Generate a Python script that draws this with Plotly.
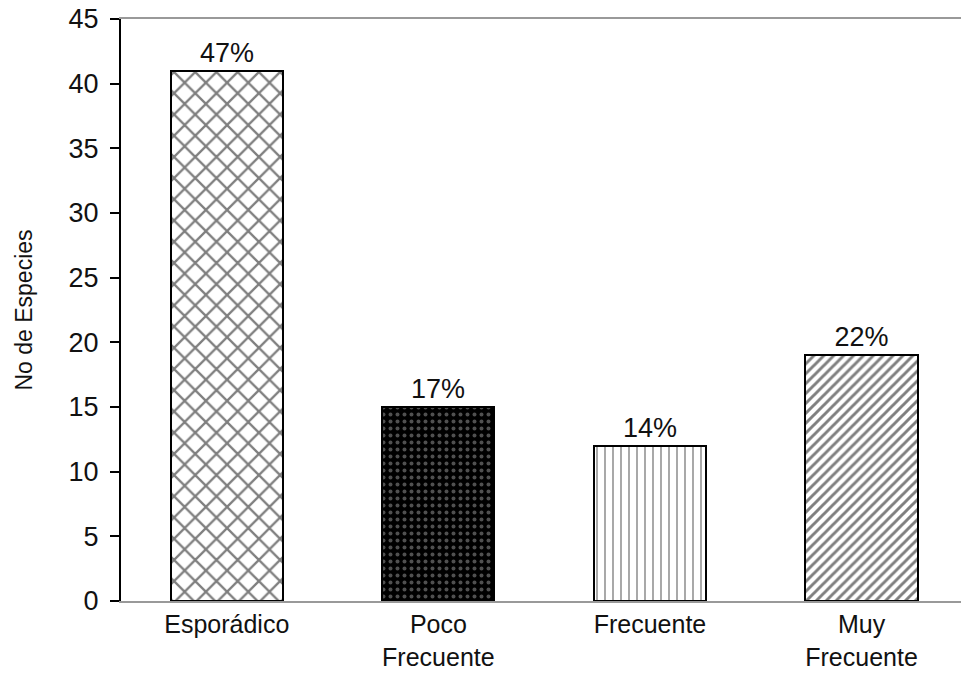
import plotly.graph_objects as go

# Species counts per frequency class
categories = ["Esporádico", "Poco<br>Frecuente", "Frecuente", "Muy<br>Frecuente"]
species = [41, 15, 12, 19]
y_ticks = [0, 5, 10, 15, 20, 25, 30, 35, 40, 45]

total = sum(species)
pct_labels = [f"{round(100 * v / total)}%" for v in species]

# Fill hatching per class
patterns = [
    dict(shape="x", fgcolor="black", bgcolor="white", size=15, solidity=0.28),
    dict(shape=".", fgcolor="#a0a0a0", bgcolor="black", size=7, solidity=0.25),
    dict(shape="|", fgcolor="#3a3a3a", bgcolor="white", size=8, solidity=0.22),
    dict(shape="/", fgcolor="black", bgcolor="white", size=7, solidity=0.42),
]

FONT = "Liberation Sans, Arial, sans-serif"

fig = go.Figure()
for i, (cat, val, txt, pat) in enumerate(zip(categories, species, pct_labels, patterns)):
    fig.add_trace(go.Bar(
        x=[i], y=[val], width=0.53,
        marker=dict(color="white", line=dict(color="black", width=2), pattern=pat),
        text=[txt], textposition="outside", cliponaxis=False,
        textfont=dict(family=FONT, size=27, color="#111111"),
        showlegend=False, hoverinfo="skip",
    ))

fig.update_layout(
    width=961, height=673,
    margin=dict(l=121, r=0, t=19, b=72),
    paper_bgcolor="white", plot_bgcolor="white",
    font=dict(family=FONT, size=27, color="#111111"),
    bargap=0,
    xaxis=dict(
        range=[-0.5, 3.47], tickmode="array", tickvals=list(range(len(categories))),
        ticktext=categories, showgrid=False, zeroline=False,
        showline=True, linecolor="#999999", linewidth=2, mirror=True,
        ticks="", tickfont=dict(size=25), ticklabelstandoff=0,
        fixedrange=True, automargin=False,
    ),
    yaxis=dict(
        range=[0, 45], tickmode="array", tickvals=y_ticks, showgrid=False,
        zeroline=False, showline=True, linecolor="black", linewidth=2,
        ticks="outside", ticklen=9, tickwidth=2, tickcolor="black",
        ticklabelstandoff=6, tickfont=dict(size=27), automargin=False,
        title=dict(text="No de Especies", font=dict(size=23), standoff=30),
    ),
)

fig.write_html("out.html")
